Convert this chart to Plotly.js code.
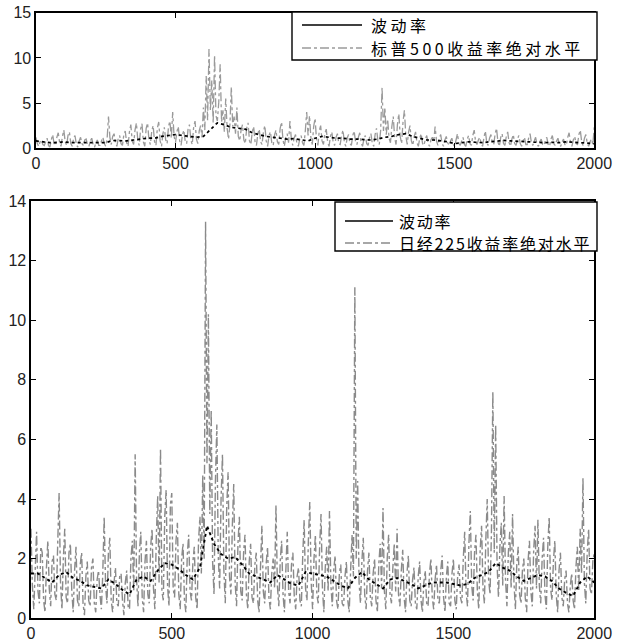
<!DOCTYPE html>
<html>
<head>
<meta charset="utf-8">
<script src="https://cdn.plot.ly/plotly-3.0.1.min.js"></script>
<style>html,body{margin:0;padding:0;background:#fff}#chart{width:619px;height:644px}</style>
</head>
<body>
<div id="chart"></div>
<script>
// Top panel: S&P 500 absolute returns (every 5 days) and volatility (every 25 days)
var spAbsReturn = [
1.2,0.5,0.2,0.7,0.9,0.4,0.3,0.8,1.1,0.3,0.1,0.9,1.5,0.5,0.3,1.2,1.7,0.6,0.2,1.3,
2.0,0.7,0.3,1.4,1.8,0.5,0.2,1.1,1.4,0.4,0.1,0.8,1.2,0.5,0.3,0.9,1.0,0.4,0.2,0.8,
1.1,0.4,0.1,0.6,0.9,0.3,0.3,0.8,1.2,0.5,0.2,1.0,3.5,1.2,0.4,1.3,1.6,0.6,0.2,1.1,
1.4,0.5,0.3,1.5,1.9,0.6,0.2,1.8,2.6,0.8,0.4,2.0,2.8,0.9,0.3,2.1,2.7,0.7,0.2,2.2,
2.8,0.9,0.4,1.9,2.5,0.7,0.3,2.2,2.9,0.8,0.2,1.6,2.3,0.9,0.5,2.4,3.0,1.1,4.0,1.3,
0.6,1.8,2.4,0.8,0.3,1.5,2.0,0.7,0.5,2.1,2.6,0.9,0.4,2.3,3.0,1.0,0.5,1.9,2.5,1.2,
4.5,2.0,8.0,3.1,11.0,4.2,7.5,2.8,10.3,3.6,3.0,5.1,9.3,2.9,4.2,1.8,5.5,2.2,1.0,2.6,
6.8,2.4,3.5,1.6,4.5,1.3,0.8,2.0,2.6,0.9,0.5,2.2,2.8,0.8,0.4,1.8,2.4,0.7,0.3,1.6,
2.1,0.7,0.4,1.8,2.5,0.8,0.2,1.4,1.8,0.6,0.3,1.5,2.0,0.7,0.4,2.2,2.9,0.9,0.2,1.2,
1.6,0.6,3.0,1.0,0.3,1.1,1.5,0.5,0.2,1.0,1.4,0.6,0.3,1.9,4.0,1.4,3.6,1.2,0.4,2.4,
3.3,1.0,0.3,1.9,2.5,0.8,0.4,1.6,2.1,0.7,0.2,1.3,1.8,0.6,0.3,1.2,1.6,0.5,0.4,1.4,
2.0,0.6,0.2,1.1,1.5,0.5,0.3,1.4,1.9,0.7,0.4,1.2,1.7,0.6,0.2,1.0,1.4,0.5,0.3,1.2,
1.6,0.5,0.2,1.5,2.2,0.8,0.4,2.0,6.7,1.9,4.5,1.5,3.2,1.1,0.6,2.4,3.5,1.2,0.4,2.6,
3.8,1.3,0.5,2.9,4.2,1.4,0.4,1.8,2.5,0.8,0.3,1.3,1.8,0.6,0.2,1.1,1.6,0.5,0.3,1.0,
1.4,0.5,0.2,0.9,1.2,0.7,2.4,0.8,0.3,1.1,1.5,0.5,0.2,0.9,1.3,0.6,0.3,0.8,1.1,0.4,
0.2,0.9,1.6,0.5,0.3,0.8,1.2,0.4,0.2,1.0,1.4,0.5,0.3,1.4,2.0,0.7,0.4,0.9,1.2,0.5,
0.2,1.2,1.9,0.6,0.3,1.1,1.5,0.5,0.4,1.6,2.2,0.7,0.2,1.2,1.6,0.5,0.3,1.3,1.8,0.6,
0.2,1.0,1.5,0.5,0.3,1.0,1.4,0.5,0.2,0.8,1.2,0.4,0.4,1.1,1.6,0.6,0.3,0.8,1.2,0.4,
0.2,0.7,1.0,0.4,0.3,0.9,1.2,0.4,0.2,1.0,1.4,0.5,0.3,0.8,1.1,0.4,0.2,0.7,1.0,0.4,
0.3,1.2,1.7,0.6,0.2,0.9,1.3,0.5,0.4,1.5,2.0,0.7,0.3,1.1,1.5,0.5,0.2,0.7,1.0,0.4,
2.3];
var spVol = [
0.8,0.7,0.6,0.6,0.7,0.6,0.6,0.6,0.55,0.55,
0.6,0.85,0.8,0.8,0.9,1.0,1.1,1.1,1.3,1.4,
1.5,1.4,1.3,1.2,1.3,2.0,2.8,2.6,2.3,2.2,
2.1,1.7,1.5,1.3,1.2,1.1,1.0,1.05,0.9,0.8,
1.1,1.3,1.2,1.1,1.1,1.0,1.0,0.95,0.9,1.0,
1.2,1.3,1.5,1.6,1.3,1.1,0.9,0.9,0.8,0.7,
0.5,0.6,0.7,0.65,0.6,0.7,0.8,0.85,0.8,0.75,
0.7,0.65,0.6,0.6,0.65,0.6,0.7,0.65,0.6,0.5,
0.5];
// Bottom panel: Nikkei 225 absolute returns (every 5 days) and volatility (every 25 days)
var nkAbsReturn = [
3.0,1.1,0.3,1.8,2.9,0.9,0.5,2.4,2.2,0.6,0.2,1.7,2.6,1.0,0.4,1.9,2.1,0.8,0.6,2.5,
4.2,1.2,0.3,2.0,3.0,0.7,0.5,2.2,2.5,0.9,0.2,1.6,2.4,0.6,0.4,1.8,2.2,0.5,0.1,1.4,
1.9,0.6,0.4,1.7,2.0,0.5,0.2,1.3,1.6,0.8,0.3,1.5,3.4,1.1,0.5,2.2,2.7,0.6,0.2,1.2,
1.7,0.5,0.4,1.4,1.5,0.6,0.1,1.2,1.6,0.4,0.3,2.0,2.6,0.9,5.5,1.3,0.4,2.2,2.9,0.7,
0.2,1.9,2.6,0.8,0.5,2.4,3.0,1.0,0.3,2.7,4.1,1.2,5.7,0.9,0.6,3.4,4.3,1.1,0.4,3.8,
4.2,1.0,0.7,2.6,3.2,0.8,0.3,2.0,2.5,0.6,0.2,2.1,2.8,0.9,0.6,1.9,2.4,0.7,0.3,2.6,
3.4,1.5,4.8,2.0,13.3,5.2,10.2,3.5,7.0,1.9,0.8,4.6,6.5,2.1,1.0,4.0,5.5,1.6,0.5,3.7,
4.9,1.4,0.8,3.1,4.5,1.2,0.4,2.5,3.4,0.9,0.6,2.2,2.8,0.8,0.3,1.9,2.5,0.7,0.5,1.8,
2.2,0.6,0.2,1.7,3.1,0.9,0.5,1.8,2.4,0.7,0.3,1.5,2.0,1.0,3.8,1.1,0.4,1.9,2.6,0.8,
0.2,1.6,2.9,0.9,0.5,1.8,2.2,0.7,0.3,1.4,1.7,0.6,0.4,2.1,3.3,1.0,0.6,2.6,3.9,1.2,
0.3,2.0,2.8,0.8,0.5,2.4,3.5,1.0,0.2,1.7,2.4,0.9,3.6,1.1,0.4,1.6,2.1,0.6,0.3,1.5,
1.8,0.5,0.4,1.4,1.9,0.6,0.2,1.6,2.8,1.4,11.1,2.0,4.6,1.2,0.5,1.9,2.7,0.8,0.3,1.6,
2.2,0.7,0.4,1.5,2.0,0.6,0.2,1.8,2.5,1.0,3.7,0.9,0.3,2.0,2.8,0.8,0.5,1.7,2.5,0.9,
3.0,0.8,0.4,1.6,2.3,0.7,0.2,1.5,2.1,0.6,0.4,1.3,1.7,0.5,0.3,1.4,1.9,0.6,0.2,1.2,
1.6,0.5,0.4,1.5,2.0,0.7,0.3,1.3,1.8,0.6,0.5,1.6,2.1,0.7,0.2,1.4,1.9,0.5,0.4,1.5,
2.0,0.6,0.3,1.4,1.8,0.7,0.5,2.0,2.9,0.9,0.4,2.5,3.6,1.1,0.6,2.2,2.8,0.9,0.3,2.3,
3.1,1.0,0.5,2.6,4.0,1.3,0.8,2.9,7.6,2.2,6.5,1.8,0.7,2.4,3.2,1.1,4.1,1.3,0.4,2.2,
2.9,1.0,3.5,1.2,0.3,1.8,2.4,0.8,0.5,1.6,2.0,0.7,0.2,1.9,2.6,0.9,0.4,2.3,3.1,1.0,
3.3,1.1,0.5,2.0,2.7,0.8,0.3,2.4,3.4,1.0,0.6,1.9,2.6,0.8,0.2,1.6,2.2,0.7,0.4,1.3,
1.6,0.5,0.2,1.1,1.5,0.6,0.3,1.7,2.4,0.9,3.0,1.5,4.7,1.2,0.5,2.2,3.0,1.0,0.8,1.9,
2.2];
var nkVol = [
1.5,1.5,1.35,1.2,1.45,1.55,1.35,1.25,1.1,1.05,
1.0,1.3,1.15,0.95,0.8,1.3,1.4,1.25,1.6,1.85,
1.8,1.65,1.45,1.3,1.7,3.1,2.5,2.15,2.0,2.05,
1.8,1.5,1.4,1.3,1.2,1.45,1.3,1.15,1.1,1.55,
1.5,1.45,1.4,1.25,1.1,1.0,1.35,1.55,1.3,1.15,
1.0,1.3,1.35,1.25,1.15,1.0,1.1,1.2,1.2,1.2,
1.15,1.1,1.15,1.35,1.45,1.55,1.85,1.7,1.6,1.4,
1.25,1.35,1.45,1.4,1.25,1.0,0.85,0.75,1.2,1.4,
1.2];
var volName = '波动率';
var spName = '标普500收益率绝对水平';
var nkName = '日经225收益率绝对水平';
var xTicks = [0, 500, 1000, 1500, 2000];
var topYTicks = [0, 5, 10, 15];
var botYTicks = [0, 2, 4, 6, 8, 10, 12, 14];

function days(arr, step){ return arr.map(function(_, i){ return i * step; }); }

var retStyleTop = {color: '#9a9a9a', width: 1.3, dash: 'dashdot'};
var retStyleBot = {color: '#8a8a8a', width: 1.4, dash: 'dashdot'};
var traces = [
  {x: days(spAbsReturn, 5), y: spAbsReturn, name: spName, type: 'scatter', mode: 'lines',
   line: retStyleTop, xaxis: 'x', yaxis: 'y'},
  {x: days(spVol, 25), y: spVol, name: volName, type: 'scatter', mode: 'lines',
   line: {color: '#000', width: 1.7, dash: 'dot'}, xaxis: 'x', yaxis: 'y'},
  {x: days(nkAbsReturn, 5), y: nkAbsReturn, name: nkName, type: 'scatter', mode: 'lines',
   line: retStyleBot, xaxis: 'x2', yaxis: 'y2'},
  {x: days(nkVol, 25), y: nkVol, name: volName, type: 'scatter', mode: 'lines',
   line: {color: '#000', width: 1.9, dash: 'dot'}, xaxis: 'x2', yaxis: 'y2'}
];

var tickFont = {family: 'Liberation Sans, Arial, sans-serif', size: 16, color: '#222'};
function axisBase(){
  return {showgrid: false, zeroline: false, showline: true, linecolor: '#000', linewidth: 1.5,
          mirror: 'ticks', ticks: 'inside', ticklen: 5, tickcolor: '#000', tickfont: tickFont};
}
var xa = axisBase(); xa.domain = [0.058, 0.96]; xa.range = [0, 2000]; xa.tickvals = xTicks; xa.anchor = 'y';
var ya = axisBase(); ya.domain = [0.770, 0.980]; ya.range = [0, 15]; ya.tickvals = topYTicks; ya.anchor = 'x';
var xa2 = axisBase(); xa2.domain = [0.050, 0.96]; xa2.range = [0, 2000]; xa2.tickvals = xTicks; xa2.anchor = 'y2';
var ya2 = axisBase(); ya2.domain = [0.040, 0.688]; ya2.range = [0, 14]; ya2.tickvals = botYTicks; ya2.anchor = 'x2';

// Legend boxes drawn in paper space (pixel positions converted to paper fractions)
var W = 619, H = 644;
function px(p){ return p / W; }
function py(p){ return 1 - p / H; }
function legendBox(x0, x1, y0, y1, lineX0, lineX1, row1, row2, textX, label2, retLine){
  var shapes = [
    {type: 'rect', xref: 'paper', yref: 'paper', x0: px(x0), x1: px(x1), y0: py(y1), y1: py(y0),
     fillcolor: '#fff', line: {color: '#000', width: 1.4}, layer: 'above'},
    {type: 'line', xref: 'paper', yref: 'paper', x0: px(lineX0), x1: px(lineX1), y0: py(row1), y1: py(row1),
     line: {color: '#000', width: 1.6}, layer: 'above'},
    {type: 'line', xref: 'paper', yref: 'paper', x0: px(lineX0), x1: px(lineX1), y0: py(row2), y1: py(row2),
     line: {color: retLine.color, width: 1.4, dash: 'dashdot'}, layer: 'above'}
  ];
  var f = {family: 'Noto Sans CJK SC, sans-serif', size: 16, color: '#000'};
  var ann = [
    {xref: 'paper', yref: 'paper', x: px(textX), y: py(row1), xanchor: 'left', yanchor: 'middle', align: 'left',
     text: volName, showarrow: false, font: f, borderpad: 0},
    {xref: 'paper', yref: 'paper', x: px(textX), y: py(row2), xanchor: 'left', yanchor: 'middle', align: 'left',
     text: label2, showarrow: false, font: f, borderpad: 0}
  ];
  return {shapes: shapes, ann: ann};
}
var legTop = legendBox(292, 597, 12, 60, 302, 362, 25, 48, 370, spName, retStyleTop);
var legBot = legendBox(335, 597, 202, 251, 345, 393, 221, 243, 398, nkName, retStyleBot);

var layout = {
  width: W, height: H,
  margin: {l: 0, r: 0, t: 0, b: 0},
  paper_bgcolor: '#fff', plot_bgcolor: '#fff',
  showlegend: false,
  xaxis: xa, yaxis: ya, xaxis2: xa2, yaxis2: ya2,
  shapes: legTop.shapes.concat(legBot.shapes),
  annotations: legTop.ann.concat(legBot.ann)
};
Plotly.newPlot('chart', traces, layout, {staticPlot: true}).then(function(){
  var spacing = ['3.5px', '3.5px', '1.8px', '1.8px'];
  var texts = document.querySelectorAll('#chart .annotation-text');
  texts.forEach(function(t, i){ t.style.letterSpacing = spacing[i] || '0px'; });
});
</script>
</body>
</html>
